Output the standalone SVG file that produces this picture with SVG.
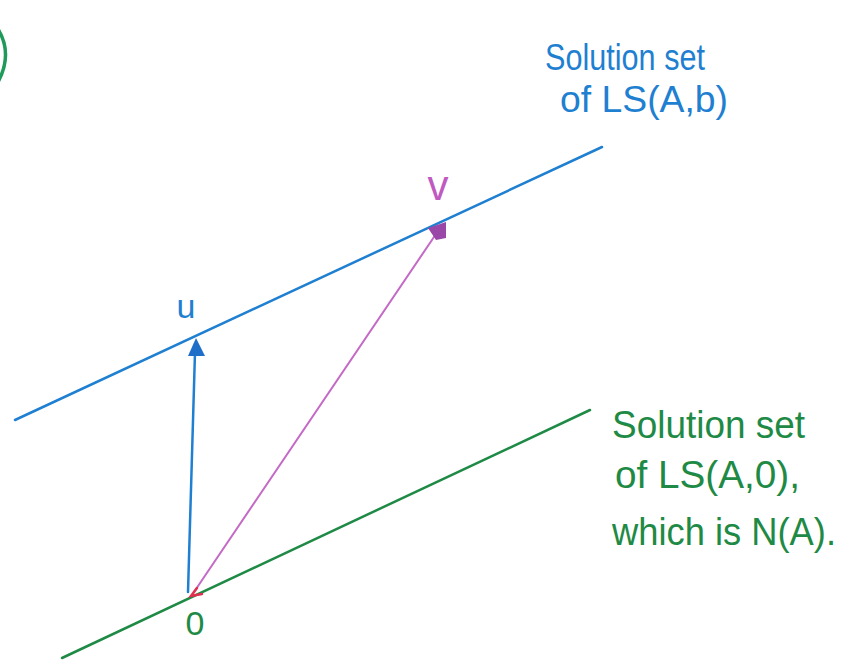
<svg xmlns="http://www.w3.org/2000/svg" width="848" height="663" viewBox="0 0 848 663">
  <style>
    .blue { stroke: #1f7fd1; fill: none; stroke-width: 2.5; stroke-linecap: round; }
    .green { stroke: #1e8a45; fill: none; stroke-width: 2.5; stroke-linecap: round; }
    .mag { stroke: #c46ac6; fill: none; stroke-width: 2; stroke-linecap: round; }
    .tb { fill: #1f7fd1; font-family: "Liberation Sans", sans-serif; font-size: 37px; }
    .tg { fill: #1e8a45; font-family: "Liberation Sans", sans-serif; font-size: 38px; }
    .lab { font-family: "Liberation Sans", sans-serif; }
  </style>
  <rect width="848" height="663" fill="#ffffff"/>

  <g id="corner-mark">
    <path d="M -4 26 Q 14 52 -2 82" stroke="#1e9a5a" stroke-width="3.5" fill="none"/>
  </g>

  <g id="connectors">
    <line id="line-b" class="blue" x1="15" y1="420" x2="602" y2="147"/>
    <line id="line-0" class="green" x1="62" y1="658" x2="590" y2="410"/>
    <line id="vec-u" class="blue" x1="188" y1="592" x2="195" y2="352"/>
    <polygon points="196,338 188,356 205,356" fill="#1f6fc8"/>
    <line id="vec-v" class="mag" x1="194" y1="592" x2="436" y2="234"/>
    <polygon points="446,222 428,228 436,240 446,238" fill="#9a48a8"/>
    <path d="M 197 588 L 191 596 L 202 594" stroke="#e03050" stroke-width="2.5" fill="none" stroke-linecap="round"/>
  </g>

  <g id="label-u">
    <text class="lab" x="186" y="318" font-size="34" text-anchor="middle" fill="#1f7fd1">u</text>
  </g>
  <g id="label-v">
    <text class="lab" x="438" y="200" font-size="42" text-anchor="middle" fill="#c05ac0">v</text>
  </g>
  <g id="label-0">
    <text class="lab" x="195" y="635" font-size="34" text-anchor="middle" fill="#1e8a45">0</text>
  </g>

  <g id="text-b">
    <text class="tb" x="545" y="70" textLength="160" lengthAdjust="spacingAndGlyphs">Solution set</text>
    <text class="tb" x="560" y="112" textLength="168" lengthAdjust="spacingAndGlyphs">of LS(A,b)</text>
  </g>

  <g id="text-0">
    <text class="tg" x="612" y="438" textLength="193" lengthAdjust="spacingAndGlyphs">Solution set</text>
    <text class="tg" x="615" y="488" textLength="185" lengthAdjust="spacingAndGlyphs">of LS(A,0),</text>
    <text class="tg" x="612" y="545" font-size="36" textLength="224" lengthAdjust="spacingAndGlyphs">which is N(A).</text>
  </g>
</svg>
